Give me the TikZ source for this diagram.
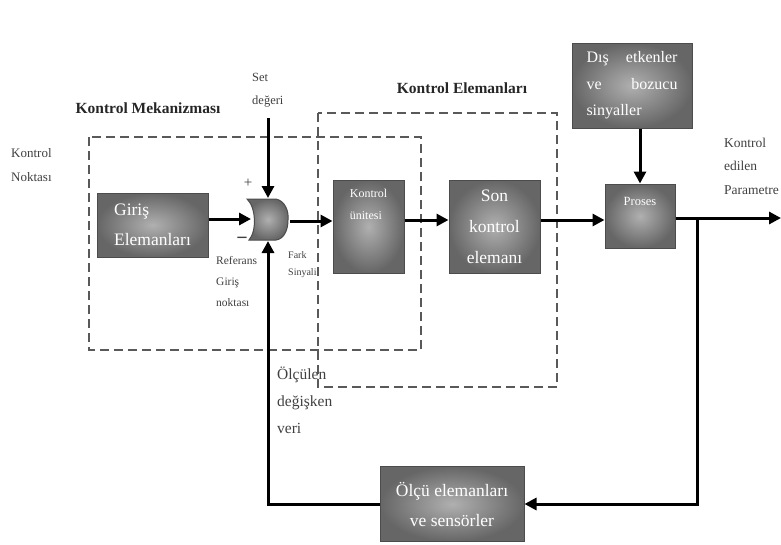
\documentclass[tikz,border=0pt]{standalone}
\usepackage{fontspec}
\setmainfont{Liberation Serif}
\usetikzlibrary{arrows.meta}

\newcommand{\fsz}[2]{\fontsize{#1}{#2}\selectfont}

\tikzset{
  blk/.style={draw=black!70, line width=1pt, inner color=gray!62, outer color=gray!80!black, text=white, inner sep=0pt},
  lbl/.style={text=black!75, align=left, inner sep=0pt},
  flow/.style={line width=3pt, -{Triangle[length=12pt,width=12pt]}},
  frame/.style={line width=1.2pt, black!65, dash pattern=on 9pt off 5pt},
}

\begin{document}
\begin{tikzpicture}[x=1pt,y=-1pt]
\useasboundingbox (0,0) rectangle (781,544);
%% frames
\draw[frame] (89,137) rectangle (421,350);
\draw[frame] (318,113) rectangle (557,387);
\node[lbl, font=\fsz{15.5}{18}\bfseries, text=black!85] (mektitle) at (148,108) {Kontrol Mekanizması};
\node[lbl, font=\fsz{15.5}{18}\bfseries, text=black!85] (eltitle) at (462,88) {Kontrol Elemanları};
%% side labels
\node[lbl, anchor=west, font=\fsz{13}{24}] (noktasi) at (11,165) {Kontrol\\Noktası};
\node[lbl, anchor=west, font=\fsz{12.5}{23}] (setlbl) at (252,90) {Set\\değeri};
\node[lbl, anchor=west, font=\fsz{13.5}{23.5}] (kep) at (724,166) {Kontrol\\edilen\\Parametre};
\node[lbl, anchor=west, font=\fsz{11.5}{21}] (refl) at (216,282) {Referans\\Giriş\\noktası};
\node[lbl, anchor=west, font=\fsz{10}{17}] (fark) at (288,264.5) {Fark\\Sinyali};
\node[lbl, anchor=west, font=\fsz{15.5}{27}] (olculen) at (277,400) {Ölçülen\\değişken\\veri};
%% blocks
\node[blk, minimum width=111pt, minimum height=64pt, align=left, font=\fsz{17.5}{30}] (giris) at (152.5,225) {Giriş\\Elemanları};
\node[blk, minimum width=71pt, minimum height=93pt,
  label={[anchor=north, yshift=-6pt, text=white, align=left, font=\fsz{12}{22}]north:Kontrol\\ünitesi}] (ku) at (368.5,226.5) {};
\node[blk, minimum width=91pt, minimum height=93pt, align=center, font=\fsz{17.5}{31}] (sk) at (494.5,226.5) {Son\\kontrol\\elemanı};
\node[blk, minimum width=70pt, minimum height=64pt,
  label={[anchor=north, yshift=-10pt, text=white, font=\fsz{12.5}{14}]north:Proses}] (proses) at (640,216) {};
\node[blk, minimum width=120pt, minimum height=85pt, text width=91pt, align=left, font=\fsz{16}{26.5}] (dis) at (632,85.5)
  {\makebox[91pt]{Dış\hfill etkenler}\\\makebox[91pt]{ve\hfill bozucu}\\sinyaller};
\node[blk, minimum width=144pt, minimum height=75pt, align=center, font=\fsz{17.5}{30}] (olcu) at (452,504) {Ölçü elemanları\\ve sensörler};
%% comparator
\path[blk] (247,199) -- (276,199) .. controls (285,201) and (289,211) .. (288,220)
  .. controls (288,230) and (284,239) .. (276,240) -- (249,240)
  .. controls (257,231) and (256,207) .. (247,199) -- cycle;
\coordinate (cin) at (251,219);
\coordinate (ctop) at (268,198);
\coordinate (cbot) at (268,241);
\coordinate (cout) at (290,221);
\coordinate (setin) at (268,118);
\coordinate (br) at (697,218);
\coordinate (out) at (781,218);
\node[lbl, font=\fsz{15}{16}] (plus) at (248,183) {+};
\node[lbl, font=\fsz{20}{20}\bfseries] (minus) at (242,241) {−};
%% signal flow
\draw[flow] (giris.east |- cin) -- (cin);
\draw[flow] (setin) -- (ctop);
\draw[flow] (cout) -- (ku.west |- cout);
\draw[flow] ([yshift=6.5pt]ku.east) -- ([yshift=6.5pt]sk.west);
\draw[flow] ([yshift=6.5pt]sk.east) -- ([yshift=-4pt]proses.west);
\draw[flow] (proses.north |- dis.south) -- (proses.north);
\draw[flow] ([yshift=-2pt]proses.east) -- (out);
%% feedback
\draw[flow] (br) |- (olcu.east);
\draw[flow] (olcu.west) -| (cbot);
\end{tikzpicture}
\end{document}
